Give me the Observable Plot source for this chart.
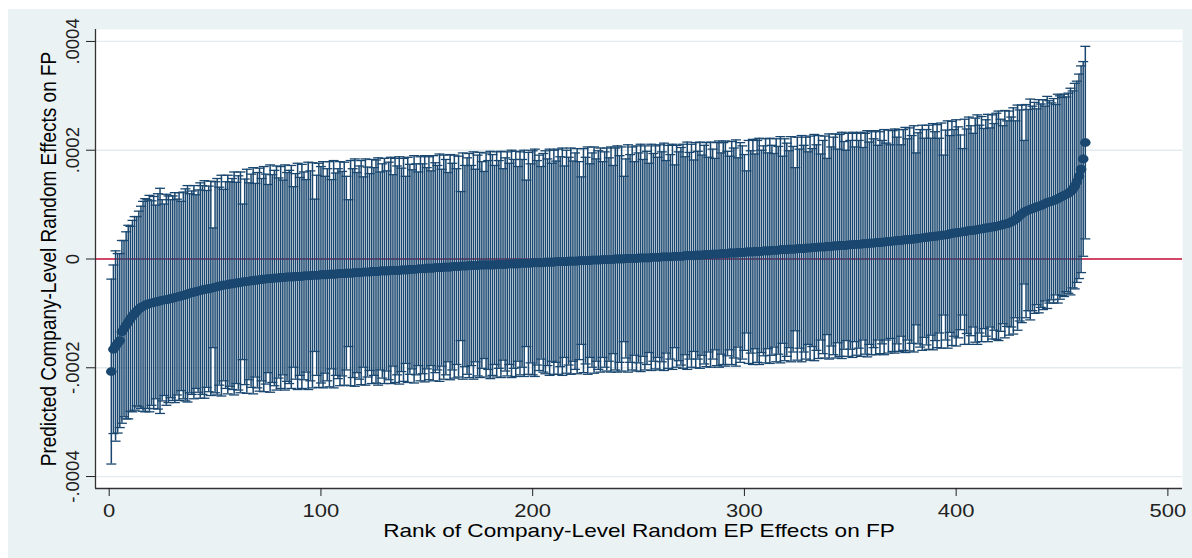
<!DOCTYPE html>
<html><head><meta charset="utf-8">
<script src="https://cdn.jsdelivr.net/npm/d3@7"></script>
<script src="https://cdn.jsdelivr.net/npm/@observablehq/plot@0.6"></script>
<style>
html,body{margin:0;padding:0;background:#fff;}
#chart{position:absolute;left:8px;top:9px;}
</style></head><body><div id="chart"></div>
<script>
// Values are in millionths (1e-6)
const UNIT = 1e-6;
const estimate = [
-207,-166,-160,-155,-150,-134,-128,-122,-116,-110,
-105,-100,-96,-92,-89,-87,-85,-83,-82,-81,
-80,-79,-78,-77,-76,-75,-75,-74,-73,-72,
-71,-70,-69,-68,-67,-66,-64,-63,-62,-61,
-60,-59,-58,-57,-56,-55,-55,-54,-53,-52,
-51,-50,-49,-48,-48,-47,-46,-46,-45,-44,
-44,-43,-42,-42,-41,-41,-40,-40,-39,-39,
-38,-38,-37,-37,-36,-36,-36,-35,-35,-35,
-34,-34,-34,-33,-33,-33,-33,-32,-32,-32,
-32,-31,-31,-31,-31,-30,-30,-30,-30,-29,
-29,-29,-29,-28,-28,-28,-28,-27,-27,-27,
-27,-26,-26,-26,-26,-25,-25,-25,-25,-24,
-24,-24,-24,-23,-23,-23,-23,-22,-22,-22,
-22,-22,-21,-21,-21,-21,-21,-20,-20,-20,
-20,-19,-19,-19,-19,-18,-18,-18,-18,-17,
-17,-17,-17,-16,-16,-16,-16,-15,-15,-15,
-15,-14,-14,-14,-14,-13,-13,-13,-13,-12,
-12,-12,-12,-12,-11,-11,-11,-11,-11,-11,
-11,-11,-10,-10,-10,-10,-10,-9,-9,-9,
-9,-9,-9,-8,-8,-8,-8,-8,-8,-7,
-7,-7,-7,-7,-7,-6,-6,-6,-6,-6,
-5,-5,-5,-5,-5,-5,-4,-4,-4,-4,
-4,-3,-3,-3,-3,-3,-3,-2,-2,-2,
-2,-2,-1,-1,-1,-1,-1,-1,0,0,
0,0,0,1,1,1,1,1,1,2,
2,2,2,2,2,3,3,3,3,3,
4,4,4,4,4,4,5,5,5,5,
5,6,6,6,6,6,7,7,7,7,
8,8,8,8,9,9,9,9,10,10,
10,10,11,11,11,11,12,12,12,12,
13,13,13,13,14,14,14,14,15,15,
15,15,16,16,16,16,17,17,17,17,
18,18,18,18,19,19,19,19,20,20,
20,21,21,21,22,22,22,22,23,23,
23,24,24,24,25,25,25,25,26,26,
26,27,27,27,27,28,28,28,29,29,
29,30,30,30,31,31,32,32,32,33,
33,34,34,34,35,35,36,36,36,37,
37,38,38,39,39,40,40,41,41,42,
42,43,43,44,44,45,46,47,48,48,
49,49,50,50,51,52,52,53,53,54,
55,55,56,57,57,58,59,59,60,61,
62,63,64,65,66,68,70,73,76,80,
83,86,88,90,91,93,94,96,97,98,
100,102,104,105,106,107,109,111,113,115,
117,119,121,124,128,134,142,152,165,184,
214];
// Half-width of the confidence interval, also in millionths
const halfWidth = [
170,155,175,165,160,168,162,172,178,170,
176,178,174,180,186,193,196,192,199,188,
195,178,198,207,185,176,194,190,182,188,
193,180,191,174,190,195,199,183,187,196,
178,186,198,192,200,181,189,197,110,194,
199,182,203,176,190,201,188,194,205,185,
197,203,143,189,206,181,196,208,178,198,
205,186,207,193,173,209,191,198,206,184,
204,179,207,192,196,205,166,189,208,182,
206,191,177,209,193,207,140,184,206,199,
208,181,195,207,174,209,186,193,206,188,
205,178,135,207,192,209,184,196,206,175,
208,193,181,206,191,205,209,182,197,207,
184,200,208,176,206,192,209,187,205,172,
207,193,183,209,194,178,206,193,208,185,
205,179,207,193,188,209,181,206,198,174,
207,190,205,180,203,137,208,185,199,206,
184,209,177,203,207,190,172,206,192,209,
203,183,207,191,208,176,196,206,185,209,
192,207,179,205,191,208,153,204,183,206,
209,188,198,177,201,205,190,208,182,206,
185,207,193,209,176,205,191,208,184,199,
207,182,154,206,190,209,178,197,208,186,
201,206,180,198,205,187,207,173,204,208,
190,206,152,183,209,191,205,178,207,193,
209,181,206,196,174,208,191,205,184,207,
193,209,177,205,188,207,168,204,192,200,
206,182,209,190,205,176,207,191,208,184,
201,206,179,207,193,176,205,208,185,204,
207,188,178,205,193,208,174,202,196,180,
149,205,186,207,179,204,208,186,193,206,
180,207,193,178,205,191,208,172,204,196,
181,207,189,150,205,183,208,190,204,177,
206,182,208,189,205,171,196,204,162,207,
183,200,206,178,204,208,191,175,205,192,
207,179,204,191,206,177,203,208,186,205,
192,206,179,204,187,207,181,205,178,203,
206,190,204,176,203,207,185,205,191,208,
158,194,200,207,183,198,206,181,208,192,
205,179,207,147,193,209,181,206,190,208,
194,179,153,207,188,209,193,178,206,211,
191,207,184,199,209,183,206,190,208,211,
195,182,209,189,206,193,208,181,207,194,
200,132,196,185,203,188,194,180,196,187,
193,179,195,186,181,188,175,192,187,182,
186,179,184,190,181,189,185,188,190,179,
177];
const xTicks = [0, 100, 200, 300, 400, 500];
const yTicks = [-0.0004, -0.0002, 0, 0.0002, 0.0004];
const yTickLabels = ["-.0004", "-.0002", "0", ".0002", ".0004"];
const xTitle = "Rank of Company-Level Random EP Effects on FP";
const yTitle = "Predicted Company-Level Random Effects on FP";
const xDomain = [-6.47, 506.9];
const yDomain = [-0.000422, 0.000422];

const data = estimate.map((e, i) => ({
  rank: i + 1,
  est: e * UNIT,
  lo: (e - halfWidth[i]) * UNIT,
  hi: (e + halfWidth[i]) * UNIT
}));

const navy = "#1a476f";
const capSymbol = {draw(ctx, size) {
  const w = Math.sqrt(size / Math.PI);
  ctx.moveTo(-w, 0); ctx.lineTo(w, 0);
}};
const ellipseSymbol = {draw(ctx, size) {
  const r = Math.sqrt(size / Math.PI), rx = r * 1.2, ry = r, k = 0.5523;
  ctx.moveTo(rx, 0);
  ctx.bezierCurveTo(rx, k * ry, k * rx, ry, 0, ry);
  ctx.bezierCurveTo(-k * rx, ry, -rx, k * ry, -rx, 0);
  ctx.bezierCurveTo(-rx, -k * ry, -k * rx, -ry, 0, -ry);
  ctx.bezierCurveTo(k * rx, -ry, rx, -k * ry, rx, 0);
  ctx.closePath();
}};

const chart = Plot.plot({
  width: 1184, height: 549,
  marginLeft: 87, marginRight: 10, marginTop: 20, marginBottom: 70,
  style: {background: "#eaf2f3", fontFamily: "'Liberation Sans', Arial, sans-serif", overflow: "visible"},
  x: {domain: xDomain},
  y: {domain: yDomain},
  marks: [
    Plot.frame({fill: "white", stroke: null}),
    Plot.gridY(yTicks, {stroke: "#e3ebee", strokeOpacity: 1, strokeWidth: 1.3}),
    Plot.ruleY([0], {stroke: "#c90f3a", strokeWidth: 1.5}),
    Plot.ruleX(data, {x: "rank", y1: "lo", y2: "hi", stroke: navy, strokeWidth: 1.5}),
    Plot.dot(data, {x: "rank", y: "lo", symbol: capSymbol, r: 5, stroke: navy, strokeWidth: 1.3, fill: "none"}),
    Plot.dot(data, {x: "rank", y: "hi", symbol: capSymbol, r: 5, stroke: navy, strokeWidth: 1.3, fill: "none"}),
    Plot.dot(data, {x: "rank", y: "est", symbol: ellipseSymbol, r: 4.4, fill: navy, stroke: null}),
    Plot.ruleX([xDomain[0]], {stroke: "#333", strokeWidth: 1.3}),
    Plot.ruleY([yDomain[0]], {stroke: "#333", strokeWidth: 1.3}),
    Plot.axisX({ticks: xTicks, tickSize: 8, tickPadding: 7, fontSize: 18.5, label: null,
      tickFormat: d => String(d), color: "#222"}),
    Plot.axisY({ticks: yTicks, tickSize: 9, tickPadding: 8, tickRotate: -90, fontSize: 18.5, label: null,
      tickFormat: d => yTickLabels[yTicks.indexOf(d)], color: "#222"}),
    Plot.text([xTitle], {frameAnchor: "bottom", lineAnchor: "top", dy: 35, fontSize: 19, fill: "black"}),
    Plot.text([yTitle], {frameAnchor: "left", textAnchor: "middle", rotate: -90, lineAnchor: "top", dx: -56, fontSize: 19, fill: "black"})
  ]
});
document.getElementById("chart").appendChild(chart);

// horizontal stretch of text, as in the reference
function stretch(el, s) {
  const t = el.getAttribute("transform") || "";
  let cx, cy;
  const m = /translate\(\s*([-\d.e]+)[\s,]+([-\d.e]+)\s*\)/.exec(t);
  if (m) { cx = +m[1]; cy = +m[2]; }
  else { cx = +(el.getAttribute("x") || 0); cy = +(el.getAttribute("y") || 0); }
  el.setAttribute("transform", `translate(${cx},${cy}) scale(${s},1) translate(${-cx},${-cy}) ${t}`);
}
chart.querySelectorAll('g[aria-label="x-axis tick label"] text, g[aria-label="text"] text')
  .forEach(el => stretch(el, 1.19));
</script></body></html>
